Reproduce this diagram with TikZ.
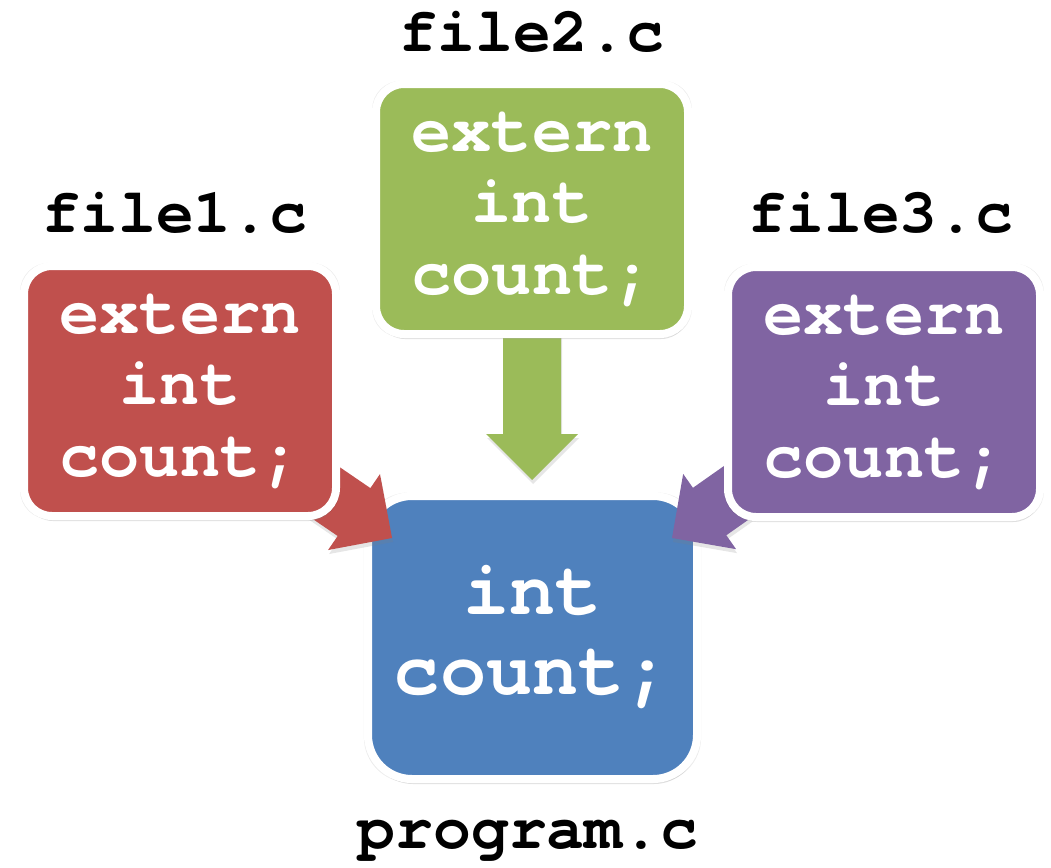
\documentclass[tikz,border=0pt]{standalone}
\usepackage{fontspec}
\setmonofont{TeX Gyre Cursor}[Ligatures=NoCommon]
\usetikzlibrary{calc, shadows}
\definecolor{cred}{HTML}{C0504D}
\definecolor{cgreen}{HTML}{9BBB59}
\definecolor{cpurple}{HTML}{8064A2}
\definecolor{cblue}{HTML}{4F81BD}
\tikzset{
  filebox/.style = {draw=white, line width=8pt, rounded corners=28pt,
    minimum width=312pt, minimum height=250pt, inner sep=0pt,
    align=center, text=white,
    font=\ttfamily\bfseries\fontsize{67}{71.5}\selectfont,
    general shadow={fill=black, opacity=0.08, shadow scale=1.025},
    drop shadow={opacity=0.25, shadow xshift=1pt, shadow yshift=-5pt}},
  progbox/.style = {filebox, rounded corners=44pt, minimum width=329pt,
    minimum height=283pt, font=\ttfamily\bfseries\fontsize{77}{80}\selectfont},
  filelabel/.style = {anchor=base, inner sep=0pt,
    font=\ttfamily\bfseries\fontsize{63}{63}\selectfont}
}
% block arrow: {start}{tip}{colour}
\newcommand{\blockarr}[3]{
  \coordinate (ab) at ($(#2)!46pt!(#1)$);
  \fill[#3, drop shadow={opacity=0.2, shadow xshift=1pt, shadow yshift=-4pt}]
    ($(#1)!29pt!90:(#2)$) -- ($(ab)!29pt!90:(#2)$)
    -- ($(ab)!46pt!90:(#2)$) -- (#2) -- ($(ab)!46pt!-90:(#2)$)
    -- ($(ab)!29pt!-90:(#2)$) -- ($(#1)!29pt!-90:(#2)$) -- cycle;
}

\begin{document}
\begin{tikzpicture}[x=1pt, y=-1pt]
\useasboundingbox (0,0) rectangle (1051,867);

\node[progbox, fill=cblue] at (532.5,637.5) (prog) {int\\count;};

% arrows into program.c
\coordinate (s1) at (272,456);  \coordinate (t1) at (392,538);
\coordinate (s2) at (532,320);  \coordinate (t2) at (532,480);
\coordinate (s3) at (790,455);  \coordinate (t3) at (672,538);
\blockarr{s1}{t1}{cred}
\blockarr{s2}{t2}{cgreen}
\blockarr{s3}{t3}{cpurple}

\node[filebox, fill=cred]    at (180,391)   (f1) {extern\\int\\count;};
\node[filebox, fill=cgreen]  at (532,209)   (f2) {extern\\int\\count;};
\node[filebox, fill=cpurple] at (884,392)   (f3) {extern\\int\\count;};

\node[filelabel] at (175,232) (l1) {file1.c};
\node[filelabel] at (532,52)  (l2) {file2.c};
\node[filelabel] at (881,232) (l3) {file3.c};
\node[filelabel] at (528,848) (lp) {program.c};
\end{tikzpicture}
\end{document}
